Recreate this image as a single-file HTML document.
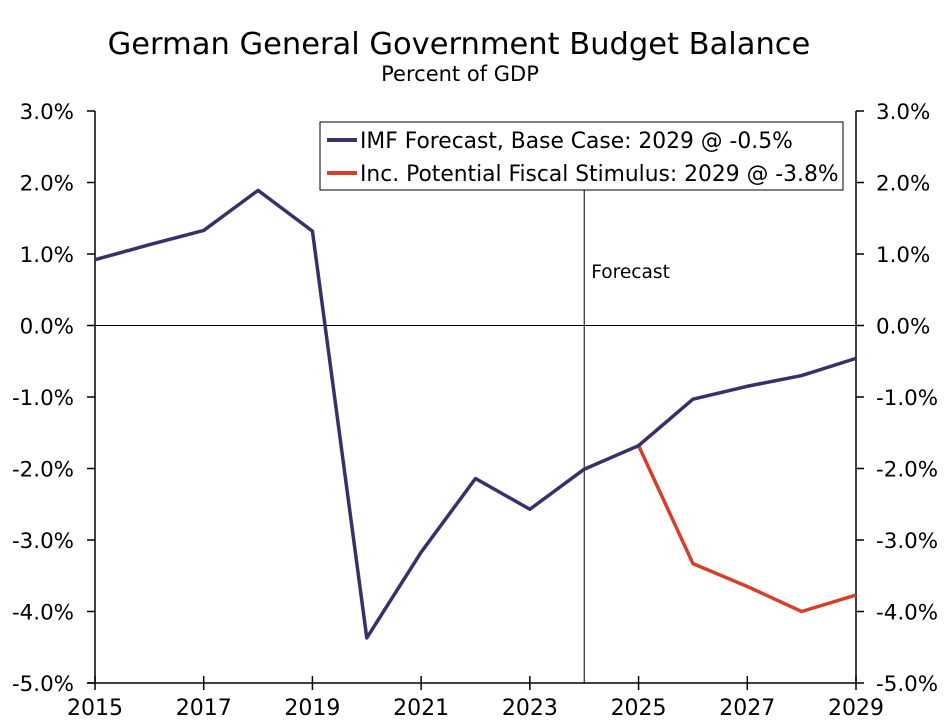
<!DOCTYPE html>
<html><head><meta charset="utf-8"><style>
body{margin:0;background:#fff;}
svg{display:block;font-family:"DejaVu Sans","Liberation Sans",sans-serif;}
</style></head><body>
<svg id="chart" width="947" height="726" viewBox="0 0 947 726" xmlns="http://www.w3.org/2000/svg">
<text x="459" y="54" font-size="30.5" text-anchor="middle" fill="#000">German General Government Budget Balance</text>
<text x="460" y="81" font-size="21" text-anchor="middle" fill="#000">Percent of GDP</text>
<g id="axes"></g>
<g id="marks"></g>
<g>
<rect x="320" y="122" width="523" height="68" fill="#fff" stroke="#000" stroke-width="1"/>
<line x1="327" y1="140" x2="357" y2="140" stroke="#3b2e6b" stroke-width="4"/>
<text x="360" y="148" font-size="21.8">IMF Forecast, Base Case: 2029 @ -0.5%</text>
<line x1="327" y1="173" x2="357" y2="173" stroke="#d6402b" stroke-width="4"/>
<text x="360" y="181" font-size="21.8">Inc. Potential Fiscal Stimulus: 2029 @ -3.8%</text>
</g>
</svg>
<script>
const years=[2015,2016,2017,2018,2019,2020,2021,2022,2023,2024,2025,2026,2027,2028,2029];
const baseValues=[0.92,1.13,1.33,1.89,1.32,-4.37,-3.17,-2.14,-2.57,-2.01,-1.68,-1.03,-0.85,-0.70,-0.46];
const stimYears=[2025,2026,2027,2028,2029];
const stimValues=[-1.68,-3.33,-3.65,-4.00,-3.77];
const yTicks=[3,2,1,0,-1,-2,-3,-4,-5];
const xTickLabels=[2015,2017,2019,2021,2023,2025,2027,2029];
const forecastYear=2024;
const NS="http://www.w3.org/2000/svg";
const L=95,R=856,T=111,B=683;
const x=v=>L+(v-2015)/(2029-2015)*(R-L);
const y=v=>T+(3-v)/8*(B-T);
const axes=document.getElementById('axes'),marks=document.getElementById('marks');
function mk(tag,attrs,parent){const e=document.createElementNS(NS,tag);for(const k in attrs)e.setAttribute(k,attrs[k]);parent.appendChild(e);return e;}
let e;
e=mk('line',{x1:L,y1:T,x2:L,y2:B,stroke:'#000','stroke-width':1.5},axes);


e=mk('line',{x1:R,y1:T,x2:R,y2:B,stroke:'#000','stroke-width':1.5},axes);


e=mk('line',{x1:L-8,y1:B,x2:R,y2:B,stroke:'#000','stroke-width':1.5},axes);


e=mk('line',{x1:L,y1:y(0),x2:R,y2:y(0),stroke:'#000','stroke-width':1},axes);


yTicks.forEach(v=>{
  const yy=y(v),lab=v.toFixed(1)+'%';
  let t=mk('line',{x1:L-8,y1:yy,x2:L,y2:yy,stroke:'#000','stroke-width':1.5},axes);
  
  
  t=mk('line',{x1:R,y1:yy,x2:R+8,y2:yy,stroke:'#000','stroke-width':1.5},axes);
  
  
  let s=mk('text',{x:L-21,y:yy+8,'font-size':21.4,'text-anchor':'end'},axes);s.textContent=lab;
  
  
  s=mk('text',{x:R+20,y:yy+8,'font-size':21.4,'text-anchor':'start'},axes);s.textContent=lab;
  
  
});
xTickLabels.forEach(v=>{
  const xx=x(v);
  let t=mk('line',{x1:xx,y1:B-7,x2:xx,y2:B+7,stroke:'#000','stroke-width':1.5},axes);
  
  
  let s=mk('text',{x:xx,y:B+32,'font-size':22,'text-anchor':'middle'},axes);s.textContent=v;
  
  
});
e=mk('line',{x1:x(forecastYear),y1:T+73,x2:x(forecastYear),y2:B,stroke:'#000','stroke-width':1},axes);


e=mk('text',{x:x(forecastYear)+7,y:278,'font-size':18.6},axes);e.textContent='Forecast';


e=mk('polyline',{points:stimYears.map((v,i)=>x(v)+','+y(stimValues[i])).join(' '),fill:'none',stroke:'#d6402b','stroke-width':3.5,'stroke-linejoin':'round'},marks);


e=mk('polyline',{points:years.map((v,i)=>x(v)+','+y(baseValues[i])).join(' '),fill:'none',stroke:'#3b2e6b','stroke-width':3.5,'stroke-linejoin':'round'},marks);


</script>
</body></html>
